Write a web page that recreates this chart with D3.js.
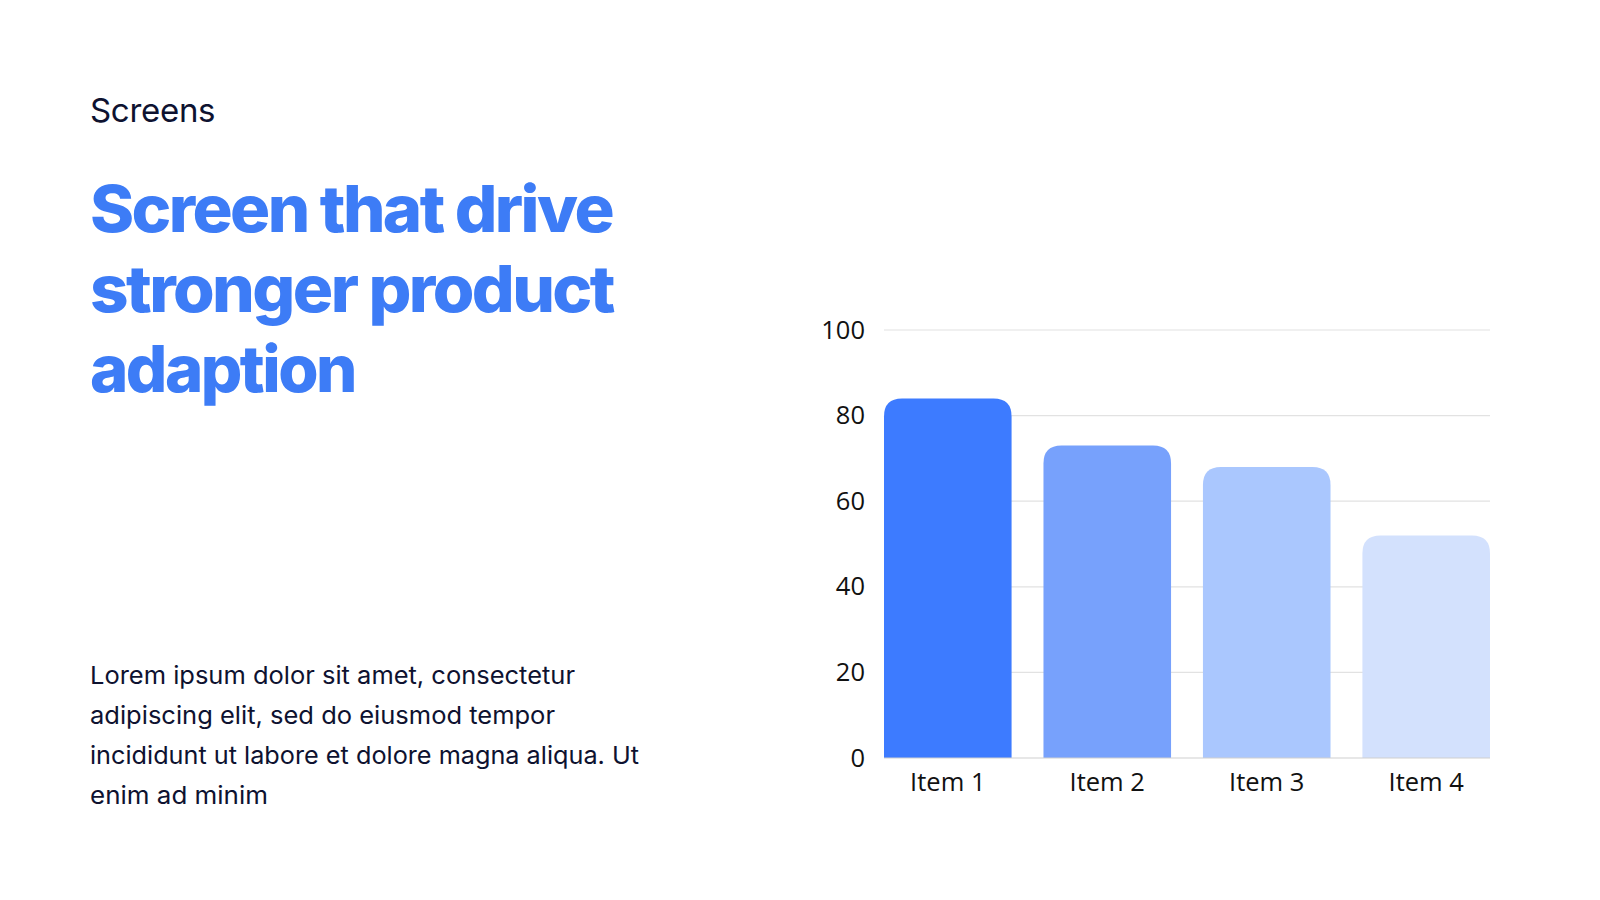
<!DOCTYPE html>
<html>
<head>
<meta charset="utf-8">
<script src="https://cdn.jsdelivr.net/npm/d3@7"></script>
<style>
  html, body { margin: 0; padding: 0; background: #ffffff; }
  svg { display: block; }
</style>
</head>
<body>
<svg id="chart" width="1600" height="900"></svg>
<script>
const categories = ["Item 1", "Item 2", "Item 3", "Item 4"];
const values = [84, 73, 68, 52];
const barColors = ["#3d7bff", "#77a1fc", "#aac7fe", "#d3e1fd"];
const yTicks = [0, 20, 40, 60, 80, 100];
const eyebrow = "Screens";
const titleLines = ["Screen that drive", "stronger product", "adaption"];
const bodyLines = [
  "Lorem ipsum dolor sit amet, consectetur",
  "adipiscing elit, sed do eiusmod tempor",
  "incididunt ut labore et dolore magna aliqua. Ut",
  "enim ad minim"
];

const svg = d3.select("#chart");

// Left text block
svg.append("text")
  .attr("x", 90).attr("y", 122)
  .attr("font-family", "Inter, sans-serif")
  .attr("font-size", 33)
  .attr("fill", "#0e1230")
  .attr("letter-spacing", -0.3)
  .text(eyebrow);

const titleWidths = [522, 523, 265];
const title = svg.append("g");
titleLines.forEach((t, i) => {
  title.append("text")
    .attr("x", 90).attr("y", 232 + i * 80)
    .attr("font-family", "Inter, sans-serif")
    .attr("font-weight", 800)
    .attr("font-size", 65)
    .attr("fill", "#3d7cf6")
    .attr("letter-spacing", -2.5)
    .attr("textLength", titleWidths[i])
    .attr("lengthAdjust", "spacingAndGlyphs")
    .text(t);
});

const bodyWidths = [485, 465, 549, 178];
bodyLines.forEach((t, i) => {
  svg.append("text")
    .attr("x", 90).attr("y", 684 + i * 40)
    .attr("font-family", "Inter, sans-serif")
    .attr("font-size", 24.5)
    .attr("fill", "#0e1230")
    .attr("textLength", bodyWidths[i])
    .attr("lengthAdjust", "spacingAndGlyphs")
    .text(t);
});

// Chart
const plot = { left: 884, right: 1490, top: 330, bottom: 758 };
const x = d3.scaleBand().domain(categories).range([plot.left, plot.right]).paddingInner(0.2).paddingOuter(0);
const y = d3.scaleLinear().domain([0, 100]).range([plot.bottom, plot.top]);

const grid = svg.append("g");
grid.selectAll("line").data(yTicks.filter(d => d > 0)).join("line")
  .attr("x1", plot.left).attr("x2", plot.right)
  .attr("y1", d => y(d)).attr("y2", d => y(d))
  .attr("stroke", "#e2e2e2").attr("stroke-width", 1.2);

const yAxis = d3.axisLeft(y).tickValues(yTicks).tickSize(0).tickPadding(19);
const yg = svg.append("g").attr("transform", `translate(${plot.left},0)`).call(yAxis);
yg.select(".domain").remove();
yg.selectAll("text")
  .attr("font-family", "'Open Sans', sans-serif")
  .attr("font-size", 25.5)
  .attr("fill", "#111111");

const r = 18;
function topRounded(x0, y0, w, h) {
  const rr = Math.min(r, w / 2, h);
  return `M${x0},${y0 + h}V${y0 + rr}Q${x0},${y0} ${x0 + rr},${y0}H${x0 + w - rr}Q${x0 + w},${y0} ${x0 + w},${y0 + rr}V${y0 + h}Z`;
}
svg.append("g").selectAll("path").data(categories).join("path")
  .attr("d", (c, i) => topRounded(x(c), y(values[i]), x.bandwidth(), y(0) - y(values[i])))
  .attr("fill", (c, i) => barColors[i]);

// baseline
svg.append("line")
  .attr("x1", plot.left).attr("x2", plot.right)
  .attr("y1", y(0)).attr("y2", y(0))
  .attr("stroke", "#cfcfcf").attr("stroke-width", 1.2);

const xAxis = d3.axisBottom(x).tickSize(0).tickPadding(15);
const xg = svg.append("g").attr("transform", `translate(0,${plot.bottom})`).call(xAxis);
xg.select(".domain").remove();
xg.selectAll("text")
  .attr("font-family", "'Open Sans', sans-serif")
  .attr("font-size", 25.5)
  .attr("fill", "#111111");
</script>
</body>
</html>
